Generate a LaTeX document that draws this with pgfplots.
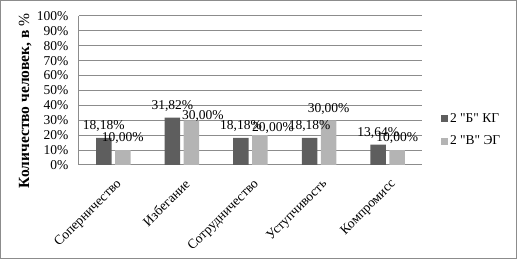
\documentclass[border=0pt]{standalone}
\usepackage{pgfplots}
\pgfplotsset{compat=1.18}
\usepackage{fontspec}
\setmainfont{Liberation Serif}[Ligatures=TeXOff]
\definecolor{darkbar}{HTML}{5E5E5E}
\definecolor{lightbar}{HTML}{B4B4B4}
\definecolor{gridc}{HTML}{8C8C8C}
\begin{document}
\begin{tikzpicture}
\path[use as bounding box] (0,0) rectangle (517pt,259pt);
\draw[gridc, line width=1pt] (0.5pt,0.5pt) rectangle (516.5pt,258.5pt);
\begin{axis}[
  at={(79pt,94pt)}, anchor=south west,
  scale only axis, width=343pt, height=149pt,
  ybar=3.5pt, bar width=15.5pt,
  ymin=0, ymax=100, ytick={0,10,...,100},
  xmin=-0.5, xmax=4.5, xtick=data,
  xticklabels={Соперничество,Избегание,Сотрудничество,Уступчивость,Компромисс},
  font=\fontsize{13.5}{15}\selectfont,
  /pgf/number format/assume math mode=true,
  yticklabel={\pgfmathprintnumber{\tick}\%},
  yticklabel style={font=\fontsize{13.5}{15}\selectfont, xshift=-7pt},
  xticklabel style={xshift=2pt, yshift=-13pt, rotate=45, anchor=north east, font=\fontsize{13.5}{15}\selectfont, inner sep=0pt},
  major tick length=0pt,
  ymajorgrids, grid style={gridc, line width=1pt},
  axis line style={gridc, line width=1pt},
  axis x line*=bottom, axis y line*=left,
  ylabel={\bfseries Количество человек, в \mdseries\%},
  ylabel style={at={(axis description cs:-0.157,0.43)}, anchor=center, font=\fontsize{15.5}{17}\selectfont},
  nodes near coords={\pgfmathprintnumber[fixed, fixed zerofill, precision=2, use comma]{\pgfplotspointmeta}\%},
  nodes near coords style={font=\fontsize{13.5}{15}\selectfont, inner sep=1pt, yshift=5pt},
  legend style={at={(1.055,0.235)}, anchor=west, draw=none, fill=none, font=\fontsize{13.5}{15}\selectfont, row sep=8pt, inner sep=0pt},
  legend cell align=left,
  /pgfplots/legend image code/.code={\fill[#1, draw=none] (0pt,-3.5pt) rectangle (7pt,3.5pt);},
]
\addplot[fill=darkbar, draw=none] coordinates {(0,18.18) (1,31.82) (2,18.18) (3,18.18) (4,13.64)};
\addplot[fill=lightbar, draw=none,
  visualization depends on={value \thisrow{dx} \as \labdx},
  visualization depends on={value \thisrow{dy} \as \labdy},
  nodes near coords style={xshift=\labdx pt, yshift=\labdy pt}]
  table[x=x, y=y] {
x y dx dy
0 10.00 0 0
1 30.00 11.5 -7
2 20.00 13 -5
3 30.00 0 0
4 10.00 0 0
};
\legend{2 "Б" КГ, 2 "В" ЭГ}
\end{axis}
\end{tikzpicture}
\end{document}
